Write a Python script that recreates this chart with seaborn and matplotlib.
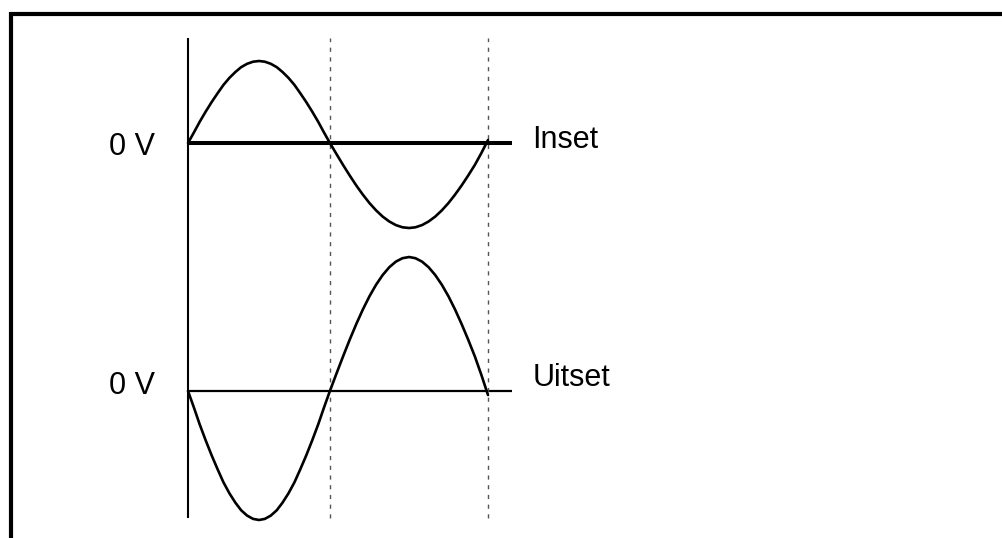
import pandas as pd
import seaborn as sns
import matplotlib.pyplot as plt
from matplotlib.lines import Line2D

# time in periods, first half is a bit shorter than the second
t = [0.0, 0.020, 0.039, 0.059, 0.079, 0.099, 0.118, 0.138, 0.158, 0.177, 0.197, 0.217, 0.237,
     0.256, 0.276, 0.296, 0.315, 0.335, 0.355, 0.374, 0.394, 0.414, 0.434, 0.453, 0.473,
     0.495, 0.517, 0.539, 0.561, 0.583, 0.605, 0.627, 0.649, 0.671, 0.693, 0.715, 0.737,
     0.758, 0.780, 0.802, 0.824, 0.846, 0.868, 0.890, 0.912, 0.934, 0.956, 0.978, 1.0]
inset = [0.0, 0.107, 0.212, 0.314, 0.41, 0.499, 0.58, 0.651, 0.71, 0.758, 0.792, 0.813, 0.82,
         0.813, 0.792, 0.758, 0.71, 0.651, 0.58, 0.499, 0.41, 0.314, 0.212, 0.107, 0.0,
         -0.111, -0.22, -0.325, -0.425, -0.517, -0.601, -0.674, -0.736, -0.785, -0.821, -0.843, -0.85,
         -0.843, -0.821, -0.785, -0.736, -0.674, -0.601, -0.517, -0.425, -0.325, -0.22, -0.10, 0.03]
uitset = [0.0, -0.168, -0.334, -0.494, -0.645, -0.785, -0.912, -1.023, -1.117, -1.192, -1.246, -1.279, -1.29,
          -1.279, -1.246, -1.192, -1.117, -1.023, -0.912, -0.785, -0.645, -0.494, -0.334, -0.168, 0.0,
          0.175, 0.347, 0.513, 0.67, 0.816, 0.948, 1.063, 1.16, 1.238, 1.294, 1.328, 1.34,
          1.328, 1.294, 1.238, 1.16, 1.063, 0.948, 0.816, 0.67, 0.513, 0.347, 0.16, -0.04]
labels = ['Inset', 'Uitset']
zero_label = '0 V'
marks_t = [0.473, 1.0]  # dashed guide lines

# layout
uit_offset = -2.48
axis_top, axis_bot = 1.05, -3.75
base_end = 1.08

sns.set_style('white')
plt.rcParams['font.family'] = ['Liberation Sans', 'DejaVu Sans']

fig = plt.figure(figsize=(10.03, 5.38), dpi=100)
ax = fig.add_axes([0, 0, 1, 1])
ax.set_xlim(-188 / 300, 815 / 300)
ax.set_ylim(-3.95, 1.43)
ax.axis('off')

df = pd.DataFrame({'t': t, 'inset': inset, 'uitset': [v + uit_offset for v in uitset]})

# baselines
ax.plot([0, base_end], [0, 0], color='black', lw=2.9, solid_capstyle='butt')
ax.plot([0, base_end], [uit_offset, uit_offset], color='black', lw=1.6, solid_capstyle='butt')

# vertical axis and dashed guides
ax.vlines(0, axis_bot, axis_top, color='black', lw=1.5)
for m in marks_t:
    ax.vlines(m, axis_bot, axis_top, color='#555555', lw=1.0, linestyles=(0, (3, 4)))

sns.lineplot(data=df, x='t', y='inset', ax=ax, color='black', lw=1.9, sort=False)
sns.lineplot(data=df, x='t', y='uitset', ax=ax, color='black', lw=1.9, sort=False)

# texts
txt = dict(fontsize=22, color='black', va='baseline')
ax.text(-0.11, -0.12, zero_label, ha='right', **txt)
ax.text(-0.11, uit_offset - 0.03, zero_label, ha='right', **txt)
ax.text(1.147, -0.05, labels[0], ha='left', **txt)
ax.text(1.15, uit_offset + 0.05, labels[1], ha='left', **txt)

# frame: top and left edges only
fig.add_artist(Line2D([10 / 1003, 1.0], [1 - 13.5 / 538, 1 - 13.5 / 538], color='black', lw=3.0,
                      transform=fig.transFigure, solid_capstyle='butt'))
fig.add_artist(Line2D([11.5 / 1003, 11.5 / 1003], [0, 1 - 12 / 538], color='black', lw=3.0,
                      transform=fig.transFigure, solid_capstyle='butt'))

fig.savefig('out.png', dpi=100)
